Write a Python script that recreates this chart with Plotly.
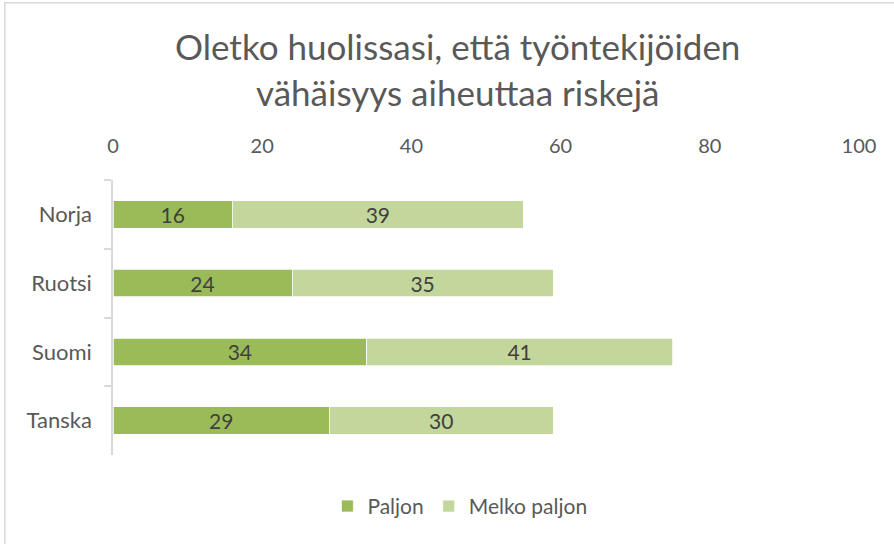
import plotly.graph_objects as go

# Survey results: share of respondents worried about staff shortages causing risks
countries = ["Norja", "Ruotsi", "Suomi", "Tanska"]
paljon = [16, 24, 34, 29]
melko_paljon = [39, 35, 41, 30]
x_ticks = [0, 20, 40, 60, 80, 100]

FONT = "Lato, 'Open Sans', sans-serif"
GRAY_TEXT = "#595959"
LABEL_TEXT = "#404040"

fig = go.Figure()
fig.add_trace(go.Bar(
    y=countries, x=paljon, name="Paljon", orientation="h",
    marker=dict(color="#9BBB59", line=dict(color="white", width=0.75)),
    text=paljon, textposition="inside", insidetextanchor="middle", textangle=0,
    constraintext="none",
    textfont=dict(color=LABEL_TEXT, size=21, family=FONT),
))
fig.add_trace(go.Bar(
    y=countries, x=melko_paljon, name="Melko paljon", orientation="h",
    marker=dict(color="#C3D69B", line=dict(color="white", width=0.75)),
    text=melko_paljon, textposition="inside", insidetextanchor="middle", textangle=0,
    constraintext="none",
    textfont=dict(color=LABEL_TEXT, size=21, family=FONT),
))

fig.update_layout(
    barmode="stack",
    bargap=0.6,
    width=894, height=544,
    margin=dict(l=113, r=35, t=180, b=89),
    paper_bgcolor="white", plot_bgcolor="white",
    font=dict(family=FONT, color=GRAY_TEXT),
    title=dict(
        text="Oletko huolissasi, että työntekijöiden<br>vähäisyys aiheuttaa riskejä",
        x=0.512, xanchor="center", y=0.889, yanchor="middle",
        font=dict(size=35, color=GRAY_TEXT, family=FONT),
    ),
    legend=dict(
        orientation="h", x=0.465, xanchor="center", y=-0.187, yanchor="middle",
        font=dict(size=21, color=GRAY_TEXT, family=FONT),
        traceorder="normal", itemwidth=30,
    ),
    uniformtext=dict(mode="show", minsize=21),
    xaxis=dict(
        side="top", range=[0, 100], tickvals=x_ticks,
        showgrid=False, zeroline=False, showline=False,
        ticks="", ticklabelstandoff=22,
        tickfont=dict(size=20, color=GRAY_TEXT, family=FONT),
    ),
    yaxis=dict(
        autorange="reversed",
        showline=True, linecolor="#D9D9D9", linewidth=1.5,
        ticks="outside", tickson="boundaries", ticklen=7,
        tickcolor="#D9D9D9", tickwidth=1.5,
        showgrid=False,
        ticklabelstandoff=15,
        tickfont=dict(size=22, color=GRAY_TEXT, family=FONT),
    ),
    shapes=[dict(
        type="rect", xref="paper", yref="paper",
        x0=-0.145, x1=1.2, y0=-0.5, y1=1.645,
        line=dict(color="#D9D9D9", width=1.5), layer="below",
    )],
)

fig.write_html("out.html")
